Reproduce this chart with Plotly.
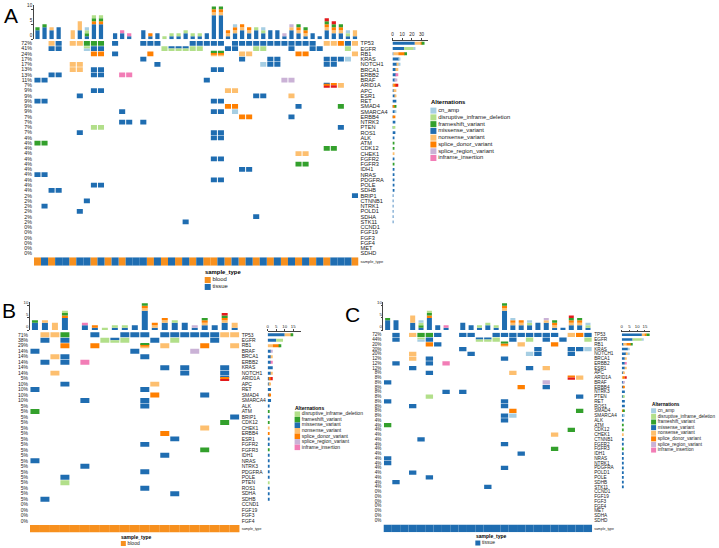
import plotly.graph_objects as go

W, H = 719, 548
FONT = "Liberation Sans, Arial, sans-serif"

# ---------------- data ----------------
# sample order (1..46); B = blood, T = tissue
SAMPLE_TYPE = list("BTBTTBTTBT" + "BTBTTTBTBT" + "BTBTBBTBTB" + "TBTBTBTBTB" + "TBTTTB")
SAMPLE_IDS = list(range(1, 47))

# gene -> {sample: alteration codes}
ALTERATIONS = {
    "TP53": {3: "N", 4: "M", 6: "N", 7: "N", 8: "F", 9: "F", 10: "F", 12: "M", 16: "M", 17: "M", 18: "M",
             23: "M", 24: "M", 25: "M", 26: "M", 27: "M", 29: "M", 30: "M", 31: "M", 32: "M", 33: "M",
             34: "M", 35: "M", 36: "M", 37: "M", 38: "M", 39: "M", 40: "M", 42: "N", 43: "N", 44: "S",
             45: "M", 46: "N"},
    "EGFR": {3: "M", 4: "M", 8: "DA", 9: "M", 10: "M", 19: "D", 20: "MD", 21: "MD", 22: "MD", 23: "D",
             24: "D", 28: "M", 29: "M", 32: "D", 33: "D", 37: "M", 40: "M", 41: "M", 45: "D"},
    "RB1": {9: "S", 10: "S", 12: "M", 17: "S", 26: "FSN", 27: "FSN", 30: "N", 31: "N", 38: "S", 39: "S", 46: "N"},
    "KRAS": {16: "M", 30: "M", 34: "M", 35: "M", 42: "M", 43: "M", 44: "M", 45: "A"},
    "NOTCH1": {6: "N", 7: "N", 18: "M", 33: "A", 34: "M", 35: "M", 42: "M", 43: "M"},
    "BRCA1": {6: "N", 7: "N", 9: "M", 10: "M", 26: "M", 27: "M"},
    "ERBB2": {3: "M", 4: "M", 9: "M", 10: "M", 13: "I", 14: "I"},
    "BRAF": {1: "M", 2: "M", 25: "M", 36: "R", 37: "R"},
    "ARID1A": {42: "MSX", 43: "SX", 44: "N"},
    "APC": {9: "M", 10: "M", 28: "N", 29: "N"},
    "ESR1": {7: "M", 32: "M", 33: "M", 37: "N"},
    "RET": {1: "M", 2: "M", 26: "M", 27: "M"},
    "SMAD4": {28: "S", 29: "S", 38: "M", 44: "F"},
    "SMARCA4": {13: "M", 26: "M", 27: "M", 29: "A"},
    "ERBB4": {30: "S", 31: "S", 37: "M"},
    "NTRK3": {13: "M", 14: "M", 16: "M"},
    "PTEN": {9: "D", 10: "D", 44: "M"},
    "ROS1": {7: "M", 26: "M", 27: "M"},
    "ALK": {26: "M", 27: "M"},
    "ATM": {1: "F", 2: "F"},
    "CDK12": {42: "F", 43: "F"},
    "CHEK1": {38: "N", 39: "N"},
    "FGFR2": {26: "M", 27: "M"},
    "FGFR3": {38: "F", 39: "F"},
    "IDH1": {30: "M", 31: "M"},
    "NRAS": {1: "M", 2: "M"},
    "PDGFRA": {26: "M", 27: "M"},
    "POLE": {9: "M", 10: "M"},
    "SDHB": {3: "M", 4: "M"},
    "BRIP1": {46: "M"},
    "CTNNB1": {8: "M"},
    "NTRK1": {2: "M"},
    "POLD1": {7: "M"},
    "SDHA": {32: "M"},
    "STK11": {22: "M"},
    "CCND1": {}, "FGF19": {}, "FGF3": {}, "FGF4": {}, "MET": {}, "SDHD": {},
}

GENES_A = ["TP53", "EGFR", "RB1", "KRAS", "NOTCH1", "BRCA1", "ERBB2", "BRAF", "ARID1A", "APC", "ESR1",
           "RET", "SMAD4", "SMARCA4", "ERBB4", "NTRK3", "PTEN", "ROS1", "ALK", "ATM", "CDK12", "CHEK1",
           "FGFR2", "FGFR3", "IDH1", "NRAS", "PDGFRA", "POLE", "SDHB", "BRIP1", "CTNNB1", "NTRK1",
           "POLD1", "SDHA", "STK11", "CCND1", "FGF19", "FGF3", "FGF4", "MET", "SDHD"]
GENES_B = ["TP53", "EGFR", "RB1", "BRAF", "BRCA1", "ERBB2", "KRAS", "NOTCH1", "ARID1A", "APC", "RET",
           "SMAD4", "SMARCA4", "ALK", "ATM", "BRIP1", "CDK12", "CHEK1", "ERBB4", "ESR1", "FGFR2", "FGFR3",
           "IDH1", "NRAS", "NTRK3", "PDGFRA", "POLE", "PTEN", "ROS1", "SDHA", "SDHB", "CCND1", "FGF19",
           "FGF3", "FGF4"]
GENES_C = ["TP53", "EGFR", "RB1", "KRAS", "NOTCH1", "BRCA1", "ERBB2", "ESR1", "APC", "ARID1A", "BRAF",
           "ERBB4", "NTRK3", "PTEN", "RET", "ROS1", "SMAD4", "SMARCA4", "ALK", "ATM", "CDK12", "CHEK1",
           "CTNNB1", "FGFR2", "FGFR3", "IDH1", "NRAS", "NTRK1", "PDGFRA", "POLD1", "POLE", "SDHB",
           "STK11", "CCND1", "FGF19", "FGF3", "FGF4", "MET", "SDHA", "SDHD"]

TYPE_NAME = {"A": "cn_amp", "D": "disruptive_inframe_deletion", "F": "frameshift_variant",
             "M": "missense_variant", "N": "nonsense_variant", "S": "splice_donor_variant",
             "R": "splice_region_variant", "I": "inframe_insertion", "X": "stop_lost"}
TYPE_COLOR = {"A": "#a6cee3", "D": "#b2df8a", "F": "#33a02c", "M": "#1f6db1", "N": "#fdbf6f",
              "S": "#ff7f00", "R": "#cab2d6", "I": "#f27db6", "X": "#e31a1c"}
STACK = "MNSFDARIX"
LEGEND_FULL = "ADFMNSRI"
LEGEND_B = "DFMNSRI"
SAMPLE_NAME = {"B": "blood", "T": "tissue"}
SAMPLE_COLOR = {"B": "#f7901e", "T": "#1f6db1"}

# ---------------- helpers ----------------
fig = go.Figure()
LAY = {}
AX = [0]


def add_axes(xpx, ypx, xo=None, yo=None):
    AX[0] += 1
    n = AX[0]
    s = "" if n == 1 else str(n)
    base = dict(showgrid=False, zeroline=False, showticklabels=False, ticks="", showline=False,
                fixedrange=True)
    xa = dict(base, domain=[max(0, xpx[0] / W), min(1, xpx[1] / W)], anchor="y" + s)
    ya = dict(base, domain=[max(0, 1 - ypx[1] / H), min(1, 1 - ypx[0] / H)], anchor="x" + s)
    xa.update(xo or {})
    ya.update(yo or {})
    LAY["xaxis" + s] = xa
    LAY["yaxis" + s] = ya
    return "x" + s, "y" + s


def bar(**kw):
    fig.add_trace(go.Bar(hoverinfo="skip", showlegend=False, **kw))


ANN = []


def text(x, y, t, size, bold=False, xanchor="left", yanchor="middle"):
    ANN.append(dict(x=x / W, y=1 - y / H, xref="paper", yref="paper", text=("<b>%s</b>" % t) if bold else t,
                    showarrow=False, xanchor=xanchor, yanchor=yanchor,
                    font=dict(size=size, color="black", family=FONT)))


def draw_legend(x, title, title_y, first_y, pitch, sw, size, labels, colors):
    text(x - 1.5, title_y, title, size, bold=True)
    n = len(labels)
    wpx = min(150, W - x - 0.5)
    xa, ya = add_axes((x, x + wpx), (first_y - pitch / 2, first_y + (n - 0.5) * pitch),
                      xo=dict(range=[0, wpx]), yo=dict(range=[n - 0.5, -0.5]))
    fig.add_trace(go.Scatter(x=[sw / 2] * n, y=list(range(n)), mode="markers+text", text=labels,
                             textposition="middle right",
                             textfont=dict(size=size, color="#222", family=FONT),
                             marker=dict(symbol="square", size=sw, color=colors, line=dict(width=0)),
                             xaxis=xa, yaxis=ya, hoverinfo="skip", showlegend=False, cliponaxis=False))


def panel(cfg):
    cols = [s for s in SAMPLE_IDS if SAMPLE_TYPE[s - 1] in cfg["types"]]
    genes = cfg["genes"]
    nc, ng = len(cols), len(genes)
    xr = [0.5, nc + 0.5]
    yr = [ng - 0.5, -0.5]
    pct = []
    for g in genes:
        k = sum(1 for s in cols if ALTERATIONS[g].get(s))
        pct.append("%d%%" % int(100.0 * k / nc + 0.5))
    tf = dict(family=FONT, color="#222")

    # oncoprint matrix
    xm, ym = add_axes(cfg["x_px"], cfg["mat_px"], xo=dict(range=xr),
                      yo=dict(range=yr, tickvals=list(range(ng)), ticktext=pct, showticklabels=True,
                              tickfont=dict(tf, size=cfg["pct_font"]), ticklabelstandoff=1))
    ch = cfg["cell_h"]
    for code in STACK:
        xs, bs, hs = [], [], []
        for gi, g in enumerate(genes):
            for ci, s in enumerate(cols):
                cs = ALTERATIONS[g].get(s, "")
                if code in cs:
                    j = cs.index(code)
                    h = ch / len(cs)
                    xs.append(ci + 1)
                    bs.append(gi - ch / 2 + j * h)
                    hs.append(h)
        if xs:
            bar(x=xs, y=hs, base=bs, width=cfg["cell_w"], xaxis=xm, yaxis=ym,
                marker=dict(color=TYPE_COLOR[code], line=dict(width=0)))
    # gene names on the right
    AX[0] += 1
    gy = "y%d" % AX[0]
    LAY["yaxis%d" % AX[0]] = dict(overlaying=ym, side="right", anchor=xm, range=yr, showgrid=False,
                                  zeroline=False, tickvals=list(range(ng)), ticktext=genes, ticks="",
                                  tickfont=dict(tf, size=cfg["gene_font"]), fixedrange=True,
                                  ticklabelstandoff=1)
    fig.add_trace(go.Scatter(x=[None], y=[None], xaxis=xm, yaxis=gy, showlegend=False, hoverinfo="skip"))

    # top bar chart (alterations per sample)
    xt, yt = add_axes(cfg["x_px"], cfg["top_px"], xo=dict(range=xr),
                      yo=dict(range=[0, cfg["top_max"]], tickvals=[0, 5, 10], showticklabels=True,
                              showline=True, linecolor="#444", linewidth=0.6, ticks="outside",
                              ticklen=2, tickwidth=0.6, tickcolor="#444",
                              ticklabelposition="outside top",
                              tickfont=dict(tf, size=cfg["tick_font"])))
    cum = [0] * nc
    for code in STACK:
        ys = [sum(ALTERATIONS[g].get(s, "").count(code) for g in genes) for s in cols]
        if sum(ys):
            bar(x=list(range(1, nc + 1)), y=ys, base=cum[:], width=cfg["top_w"], xaxis=xt, yaxis=yt,
                marker=dict(color=TYPE_COLOR[code], line=dict(width=0)))
        cum = [a + b for a, b in zip(cum, ys)]

    # right bar chart (alterations per gene)
    xr2, yr2 = add_axes(cfg["right_px"], cfg["mat_px"],
                        xo=dict(range=[0, cfg["right_max"]], side="top", tickvals=cfg["right_ticks"],
                                showticklabels=True, showline=True, linecolor="#444", linewidth=0.6,
                                ticks="outside", ticklen=2, tickwidth=0.6, tickcolor="#444",
                                tickfont=dict(tf, size=cfg["tick_font"])),
                        yo=dict(range=yr))
    cum = [0] * ng
    for code in STACK:
        xs = [sum(ALTERATIONS[g].get(s, "").count(code) for s in cols) for g in genes]
        if sum(xs):
            bar(y=list(range(ng)), x=xs, base=cum[:], orientation="h", width=cfg["right_h"],
                xaxis=xr2, yaxis=yr2, marker=dict(color=TYPE_COLOR[code], line=dict(width=0)))
        cum = [a + b for a, b in zip(cum, xs)]

    # sample type annotation bar
    xs_, ys_ = add_axes(cfg["x_px"], cfg["st_px"], xo=dict(range=xr),
                        yo=dict(range=[0, 1], side="right", tickvals=[0.5], ticktext=["sample_type"],
                                showticklabels=True, tickfont=dict(tf, size=cfg["st_font"]),
                                ticklabelstandoff=1))
    for t in "BT":
        xx = [ci + 1 for ci, s in enumerate(cols) if SAMPLE_TYPE[s - 1] == t]
        if xx:
            bar(x=xx, y=[1] * len(xx), base=[0] * len(xx), width=1.0, xaxis=xs_, yaxis=ys_,
                marker=dict(color=SAMPLE_COLOR[t], line=dict(width=0)))

    # legends
    la = cfg["leg_alt"]
    draw_legend(la["x"], "Alternations", la["ty"], la["fy"], la["p"], la["sw"], la["fs"],
                [TYPE_NAME[c] for c in la["items"]], [TYPE_COLOR[c] for c in la["items"]])
    ls = cfg["leg_st"]
    draw_legend(ls["x"], "sample_type", ls["ty"], ls["fy"], ls["p"], ls["sw"], ls["fs"],
                [SAMPLE_NAME[c] for c in cfg["types"]], [SAMPLE_COLOR[c] for c in cfg["types"]])
    lx, ly = cfg["letter"]
    text(lx, ly, cfg["name"], 21, xanchor="center", yanchor="top")


PANELS = [
    dict(name="A", types="BT", genes=GENES_A, x_px=(33, 358), top_px=(3.5, 37.3), top_max=11.3,
         mat_px=(38.8, 255), st_px=(256.3, 264.8), right_px=(392, 428), right_max=37,
         right_ticks=[0, 10, 20, 30], pct_font=5.3, gene_font=5.6, tick_font=4.6, st_font=4,
         cell_w=0.86, cell_h=0.9, top_w=0.6, right_h=0.55,
         leg_alt=dict(x=430, ty=100, fy=109, p=6.8, sw=6, fs=5.9, items=LEGEND_FULL),
         leg_st=dict(x=204, ty=271, fy=279, p=7, sw=6, fs=5.9), letter=(10, 0)),
    dict(name="B", types="B", genes=GENES_B, x_px=(29, 239), top_px=(301, 329.3), top_max=11.6,
         mat_px=(331.25, 523.75), st_px=(525, 532.5), right_px=(267, 300), right_max=19.3,
         right_ticks=[0, 5, 10, 15], pct_font=5.0, gene_font=5.0, tick_font=4.3, st_font=3.5,
         cell_w=0.9, cell_h=0.9, top_w=0.6, right_h=0.55,
         leg_alt=dict(x=294, ty=407, fy=413.7, p=5.55, sw=5.5, fs=5.0, items=LEGEND_B),
         leg_st=dict(x=120, ty=537, fy=543.5, p=6, sw=5, fs=5.0), letter=(8, 296)),
    dict(name="C", types="T", genes=GENES_C, x_px=(383, 592), top_px=(301, 329.3), top_max=11.6,
         mat_px=(331.6, 522.4), st_px=(524.3, 532.3), right_px=(621.6, 650), right_max=18.3,
         right_ticks=[0, 5, 10, 15], pct_font=4.6, gene_font=4.7, tick_font=4.3, st_font=3.5,
         cell_w=0.88, cell_h=0.9, top_w=0.6, right_h=0.55,
         leg_alt=dict(x=651, ty=403.7, fy=410.3, p=5.63, sw=5, fs=4.7, items=LEGEND_FULL),
         leg_st=dict(x=475, ty=535.7, fy=543, p=6, sw=5, fs=5.0), letter=(352, 300)),
]

for p in PANELS:
    panel(p)

fig.update_layout(width=W, height=H, margin=dict(l=0, r=0, t=0, b=0), paper_bgcolor="white",
                  plot_bgcolor="rgba(0,0,0,0)", barmode="overlay", showlegend=False,
                  font=dict(family=FONT, color="black"), annotations=ANN, **LAY)
fig.write_html("out.html", config={"displayModeBar": False},
               post_script="document.body.style.margin='0';document.body.style.padding='0';")
